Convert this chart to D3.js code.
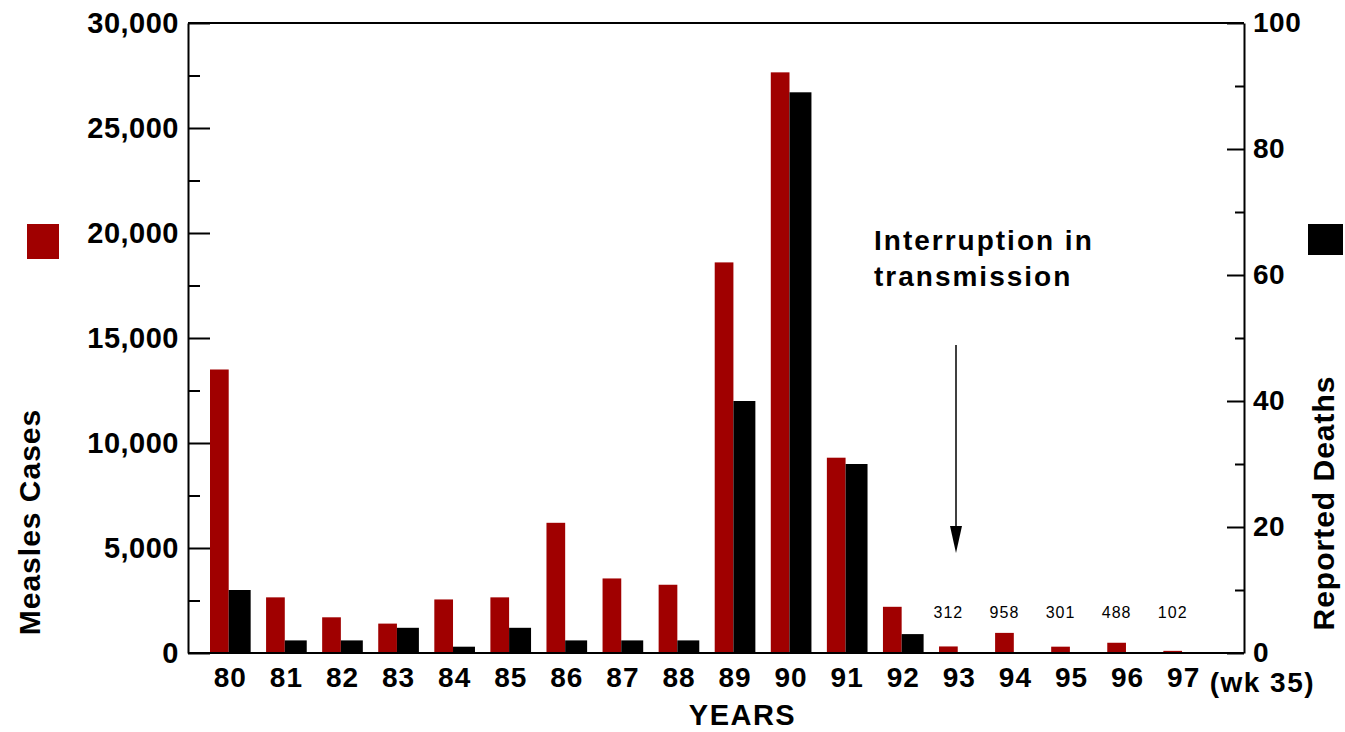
<!DOCTYPE html>
<html>
<head>
<meta charset="utf-8">
<script src="https://cdn.jsdelivr.net/npm/d3@7"></script>
<style>
  body { margin: 0; background: #fff; }
  text { font-family: "Liberation Sans", Arial, sans-serif; fill: #000; }
  .bold { font-weight: bold; }
</style>
</head>
<body>
<div id="chart"></div>
<script>
// data
const years = ['80', '81', '82', '83', '84', '85', '86', '87', '88', '89', '90', '91', '92', '93', '94', '95', '96', '97'];
const cases = [13500, 2650, 1700, 1400, 2550, 2650, 6200, 3550, 3250, 18600, 27650, 9300, 2200, 312, 958, 301, 488, 102];
const deaths = [10, 2, 2, 4, 1, 4, 2, 2, 2, 40, 89, 30, 3, 0, 0, 0, 0, 0];
const labelledYears = ['93', '94', '95', '96', '97'];
const caseTicks = [0, 5000, 10000, 15000, 20000, 25000, 30000];
const caseMinorTicks = [2500, 7500, 12500, 17500, 22500, 27500];
const deathTicks = [0, 20, 40, 60, 80, 100];
const deathMinorTicks = [10, 30, 50, 70, 90];

const W = 1345, H = 732;
const margin = {top: 23, right: 101, bottom: 79, left: 188};
const plotW = W - margin.left - margin.right;
const plotH = H - margin.top - margin.bottom;
const RED = '#a00000';

const rows = years.map((y, i) => ({year: y, cases: cases[i], deaths: deaths[i]}));

const svg = d3.select('#chart').append('svg')
    .attr('width', W)
    .attr('height', H);

const g = svg.append('g')
    .attr('transform', `translate(${margin.left}, ${margin.top})`);

const x = d3.scaleBand()
    .domain(years)
    .range([22, plotW - 40])
    .paddingInner(0.275)
    .paddingOuter(0);

const redW = x.bandwidth() * 0.46;

const yCases = d3.scaleLinear().domain([0, 30000]).range([plotH, 0]);
const yDeaths = d3.scaleLinear().domain([0, 100]).range([plotH, 0]);

// bars
g.selectAll('.case-bar')
    .data(rows)
    .enter().append('rect')
    .attr('class', 'case-bar')
    .attr('x', d => x(d.year))
    .attr('width', redW)
    .attr('y', d => yCases(d.cases))
    .attr('height', d => plotH - yCases(d.cases))
    .attr('fill', RED);

g.selectAll('.death-bar')
    .data(rows.filter(d => d.deaths > 0))
    .enter().append('rect')
    .attr('class', 'death-bar')
    .attr('x', d => x(d.year) + redW)
    .attr('width', x.bandwidth() - redW)
    .attr('y', d => yDeaths(d.deaths))
    .attr('height', d => plotH - yDeaths(d.deaths))
    .attr('fill', '#000');

// small case counts above the late bars
g.selectAll('.count-label')
    .data(rows.filter(d => labelledYears.includes(d.year)))
    .enter().append('text')
    .attr('class', 'count-label')
    .attr('x', d => x(d.year) + redW / 2)
    .attr('y', yCases(0) - 35)
    .attr('text-anchor', 'middle')
    .style('font-size', '16px')
    .style('letter-spacing', '1px')
    .text(d => d.cases);

// frame: top and bottom lines
g.append('line')
    .attr('x1', 0).attr('x2', plotW)
    .attr('y1', 0).attr('y2', 0)
    .attr('stroke', '#000').attr('stroke-width', 2);
g.append('line')
    .attr('x1', 0).attr('x2', plotW)
    .attr('y1', plotH).attr('y2', plotH)
    .attr('stroke', '#000').attr('stroke-width', 2);

// left axis
const leftAxis = g.append('g')
    .call(d3.axisLeft(yCases)
        .tickValues(caseTicks)
        .tickSizeInner(-22)
        .tickSizeOuter(0)
        .tickPadding(9)
        .tickFormat(d3.format(',')));
leftAxis.selectAll('text')
    .attr('class', 'bold')
    .style('font-size', '29px')
    .style('letter-spacing', '0.5px');
g.append('g')
    .call(d3.axisLeft(yCases)
        .tickValues(caseMinorTicks)
        .tickSizeInner(-12)
        .tickSizeOuter(0)
        .tickFormat(''))
    .select('.domain').remove();

// right axis
const rightAxis = g.append('g')
    .attr('transform', `translate(${plotW}, 0)`)
    .call(d3.axisRight(yDeaths)
        .tickValues(deathTicks)
        .tickSizeInner(-17)
        .tickSizeOuter(0)
        .tickPadding(9));
rightAxis.selectAll('text')
    .attr('class', 'bold')
    .style('font-size', '28px')
    .style('letter-spacing', '0.5px');
g.append('g')
    .attr('transform', `translate(${plotW}, 0)`)
    .call(d3.axisRight(yDeaths)
        .tickValues(deathMinorTicks)
        .tickSizeInner(-9)
        .tickSizeOuter(0)
        .tickFormat(''))
    .select('.domain').remove();

g.selectAll('.domain, .tick line')
    .attr('stroke', '#000')
    .attr('stroke-width', 2);

// bottom axis: year labels
const bottomAxis = g.append('g')
    .attr('transform', `translate(0, ${plotH})`)
    .call(d3.axisBottom(x).tickSize(0).tickPadding(14));
bottomAxis.select('.domain').remove();
bottomAxis.selectAll('text')
    .attr('class', 'bold')
    .style('font-size', '28px')
    .style('letter-spacing', '1px');

g.append('text')
    .attr('class', 'bold')
    .attr('x', x('97') + x.bandwidth() / 2 + 26)
    .attr('y', plotH + 39)
    .style('font-size', '28px')
    .style('letter-spacing', '1.5px')
    .text('(wk 35)');

// axis titles
svg.append('text')
    .attr('class', 'bold')
    .attr('transform', `translate(${W / 2 + 70}, ${H - 7})`)
    .attr('text-anchor', 'middle')
    .style('font-size', '29px')
    .style('letter-spacing', '1.5px')
    .text('YEARS');

svg.append('text')
    .attr('class', 'bold')
    .attr('transform', 'translate(40, 522) rotate(-90)')
    .attr('text-anchor', 'middle')
    .style('font-size', '30px')
    .style('letter-spacing', '1px')
    .text('Measles Cases');

svg.append('text')
    .attr('class', 'bold')
    .attr('transform', 'translate(1334, 503) rotate(-90)')
    .attr('text-anchor', 'middle')
    .style('font-size', '30px')
    .style('letter-spacing', '1px')
    .text('Reported Deaths');

// legend squares
svg.append('rect')
    .attr('x', 27).attr('y', 224)
    .attr('width', 32).attr('height', 35)
    .attr('fill', RED);
svg.append('rect')
    .attr('x', 1308).attr('y', 224)
    .attr('width', 35).attr('height', 31)
    .attr('fill', '#000');

// annotation
const note = svg.append('text')
    .attr('class', 'bold')
    .style('font-size', '28px')
    .style('letter-spacing', '2px');
note.append('tspan').attr('x', 874).attr('y', 250).text('Interruption in');
note.append('tspan').attr('x', 874).attr('y', 286).text('transmission');

svg.append('line')
    .attr('x1', 956).attr('x2', 956)
    .attr('y1', 345).attr('y2', 530)
    .attr('stroke', '#000')
    .attr('stroke-width', 1.5);
svg.append('path')
    .attr('d', 'M950,526 L962,526 L956,553 Z')
    .attr('fill', '#000');
</script>
</body>
</html>
